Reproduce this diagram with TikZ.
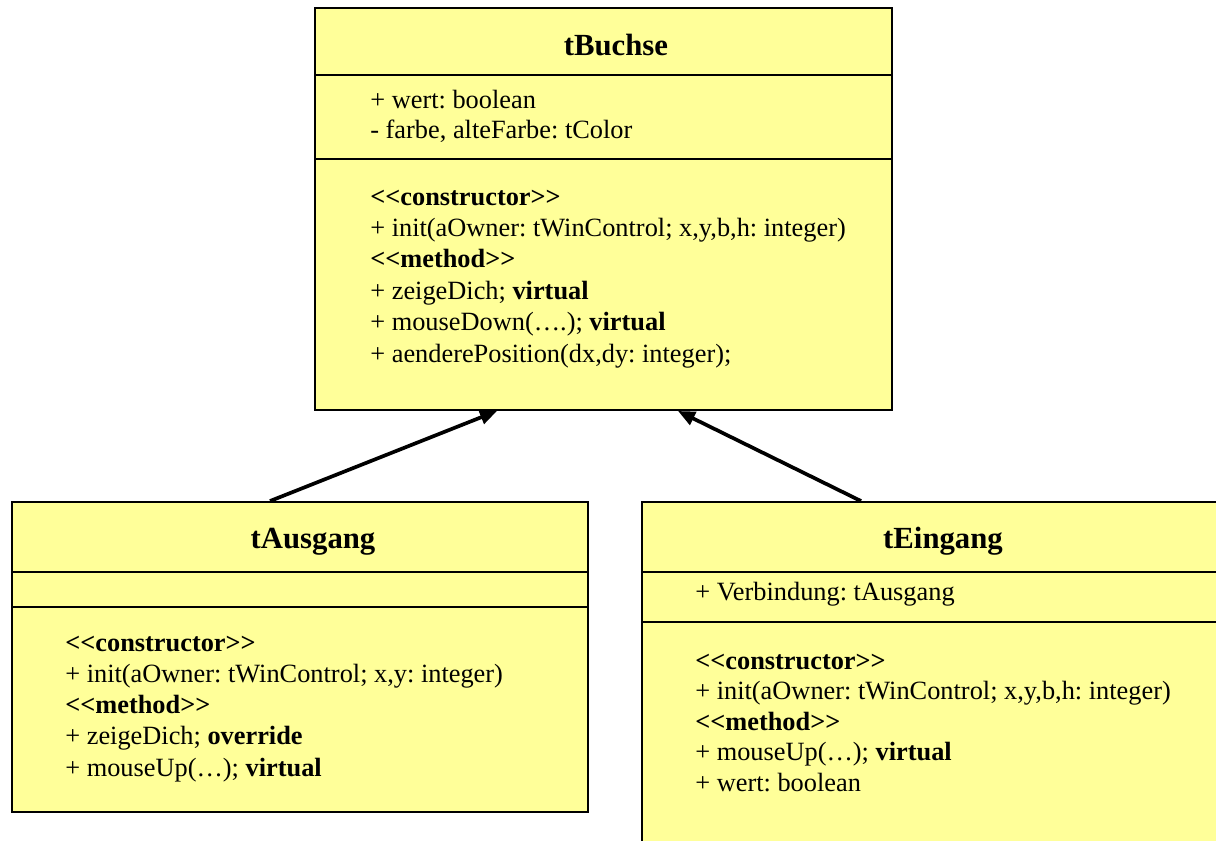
\documentclass[tikz,border=0pt]{standalone}
\usepackage{fontspec}
\setmainfont{Liberation Serif}
\usetikzlibrary{fit,arrows.meta}
\definecolor{classyellow}{HTML}{FFFF99}
\newcommand{\stereo}[1]{\textbf{<{}<#1>{}>}}
\frenchspacing
\tikzset{
  classbox/.style={draw, line width=1.1pt, fill=classyellow, inner sep=0pt},
  classname/.style={anchor=base, font=\fontsize{17.5}{20}\selectfont\bfseries},
  member/.style={anchor=base west, inner sep=0pt, font=\fontsize{15}{17.5}\selectfont},
  inherit/.style={-{Triangle[length=0.34cm,width=0.28cm]}, line width=2.1pt}
}
\begin{document}
\begin{tikzpicture}[x=0.02cm,y=-0.02cm]
\useasboundingbox (0,0) rectangle (1216,840);
\clip (0,0) rectangle (1216,840);

%tBuchse
\node[classbox, fit={(315,8) (892,410)}] (buchse) {};
\draw[line width=1.1pt] (315,75) -- (892,75);
\draw[line width=1.1pt] (315,159) -- (892,159);
\node[classname] (buchse-name) at (616,55) {tBuchse};
\node[member] (ba1) at (370,108) {+ wert: boolean};
\node[member] (ba2) at (370,138) {- farbe, alteFarbe: tColor};
\foreach \txt [count=\i] in {{\stereo{constructor}},
    {+ init(aOwner: tWinControl; x,y,b,h: integer)},
    {\stereo{method}},
    {+ zeigeDich; \textbf{virtual}},
    {+ mouseDown(….); \textbf{virtual}},
    {+ aenderePosition(dx,dy: integer);}}
  \node[member] (bm\i) at (370,205+31.4*\i-31.4) {\txt};

%tAusgang
\node[classbox, fit={(12,502) (588,812)}] (aus) {};
\draw[line width=1.1pt] (12,572) -- (588,572);
\draw[line width=1.1pt] (12,607) -- (588,607);
\node[classname] (aus-name) at (313,548) {tAusgang};
\foreach \txt [count=\i] in {{\stereo{constructor}},
    {+ init(aOwner: tWinControl; x,y: integer)},
    {\stereo{method}},
    {+ zeigeDich; \textbf{override}},
    {+ mouseUp(…); \textbf{virtual}}}
  \node[member] (am\i) at (65,651+31.25*\i-31.25) {\txt};

%tEingang
\node[classbox, fit={(642,502) (1218,870)}] (ein) {};
\draw[line width=1.1pt] (642,572) -- (1218,572);
\draw[line width=1.1pt] (642,622) -- (1218,622);
\node[classname] (ein-name) at (943,548) {tEingang};
\node[member] (ea1) at (695,600) {+ Verbindung: tAusgang};
\foreach \txt [count=\i] in {{\stereo{constructor}},
    {+ init(aOwner: tWinControl; x,y,b,h: integer)},
    {\stereo{method}},
    {+ mouseUp(…); \textbf{virtual}},
    {+ wert: boolean}}
  \node[member] (em\i) at (695,669+30.5*\i-30.5) {\txt};

%Vererbung
\draw[inherit] ([xshift=-0.6cm]aus.north) -- ([xshift=-2.13cm]buchse.south);
\draw[inherit] ([xshift=-1.38cm]ein.north) -- ([xshift=1.49cm]buchse.south);
\end{tikzpicture}
\end{document}
